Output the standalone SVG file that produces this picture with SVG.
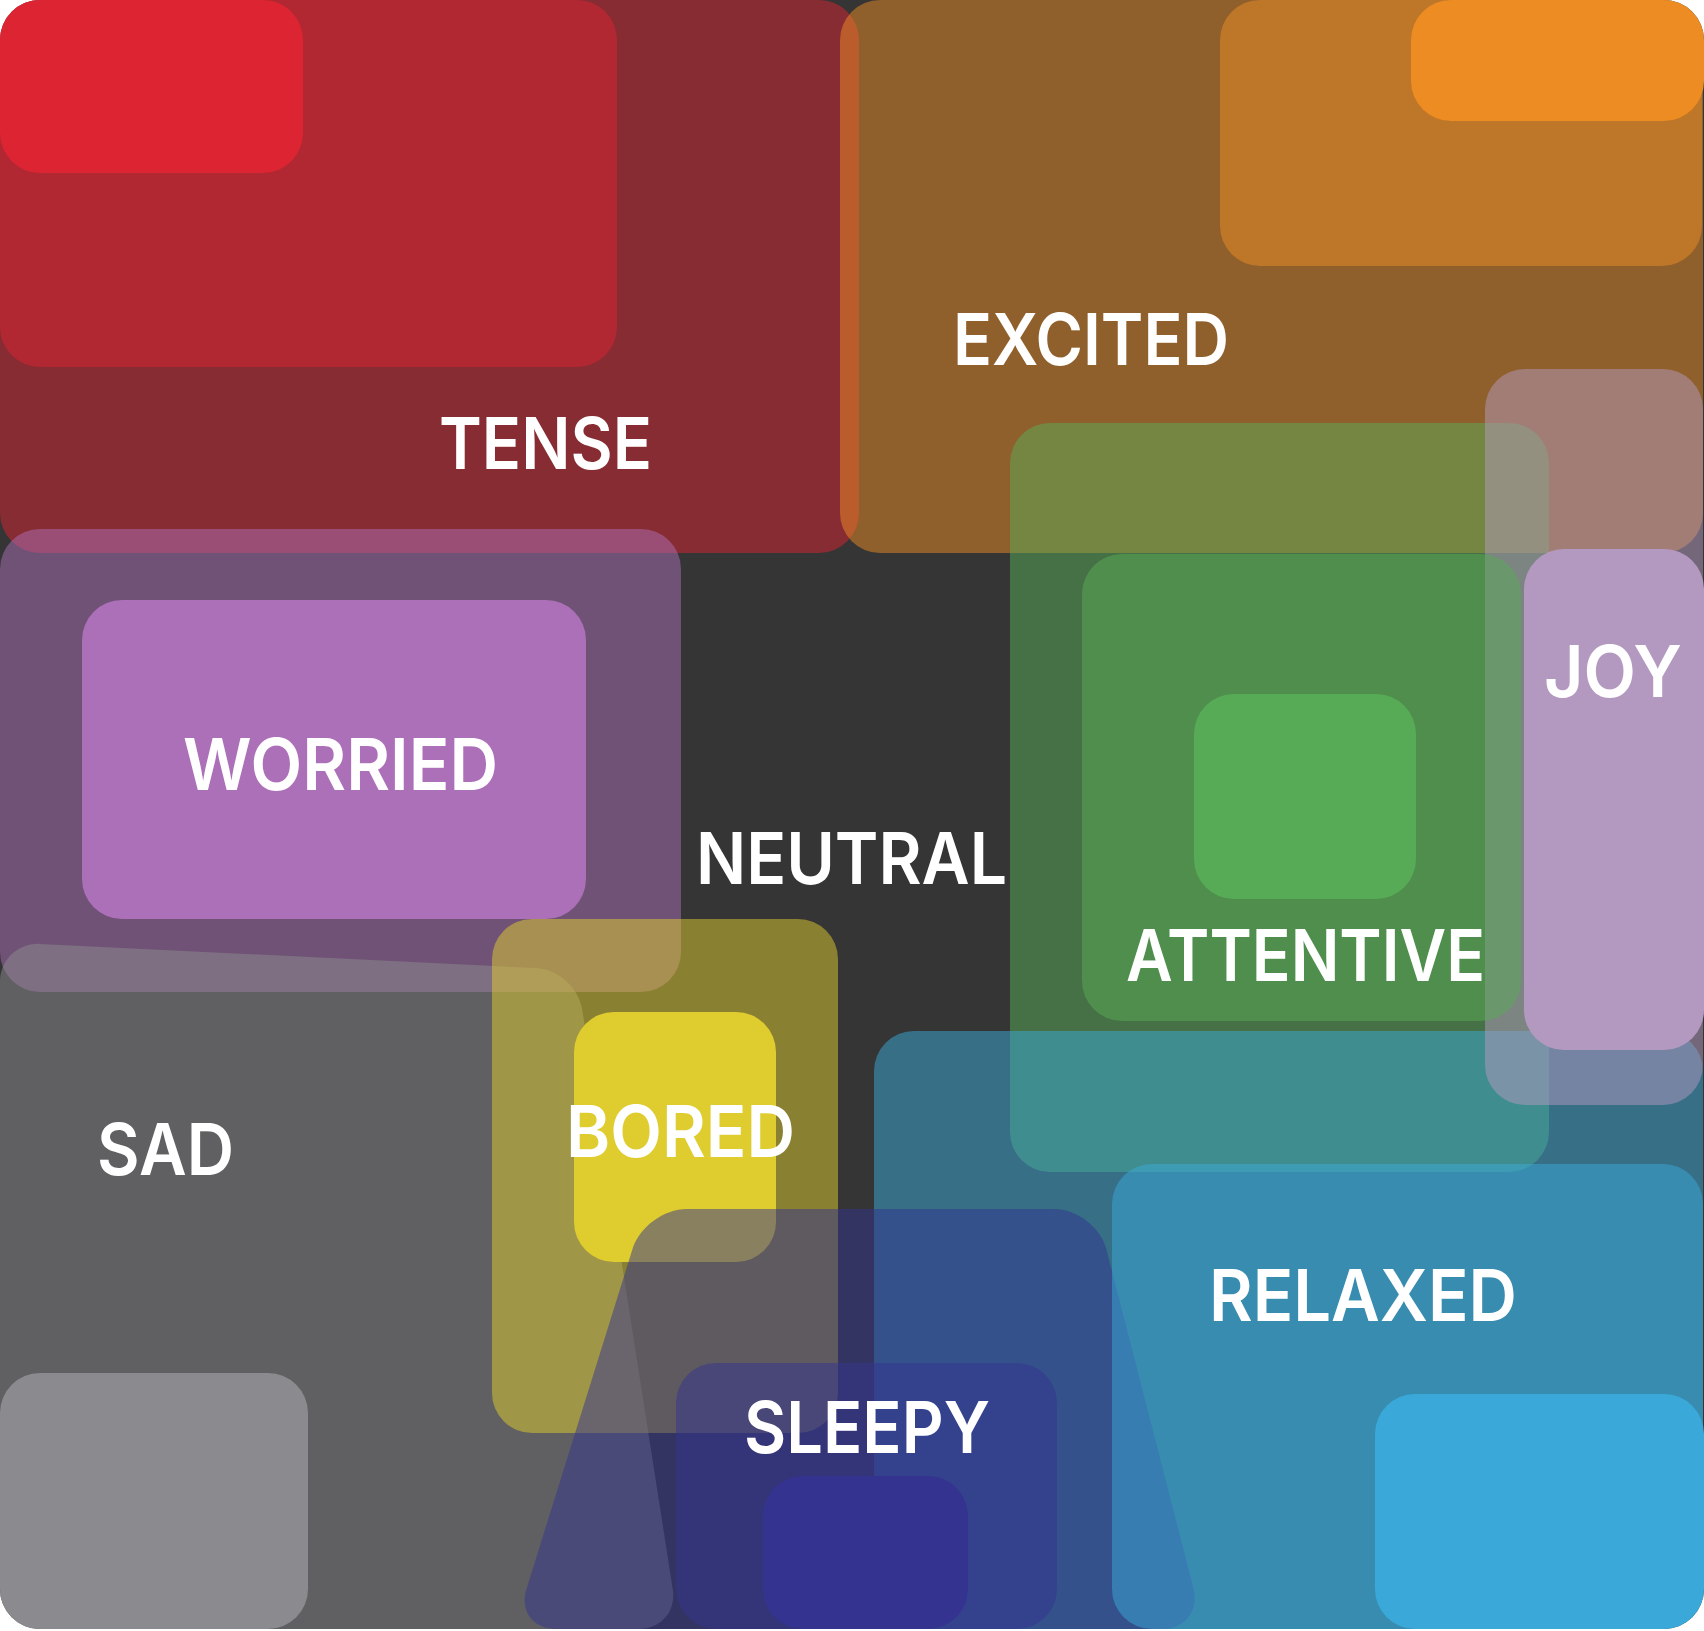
<svg xmlns="http://www.w3.org/2000/svg" width="1704" height="1631" viewBox="0 0 1704 1631">
<style>
.tense{fill:#DC2432}.excited{fill:#EC8C23}.worried{fill:#AC70B8}.sad{fill:#8B8B8F}.bored{fill:#DFCC2E}
.attentive{fill:#58AB56}.joy{fill:#B399C0}.relaxed{fill:#3AA9D9}.sleepy{fill:#343490}
.half{fill-opacity:0.5}
.lbl{font-family:Inter,"Liberation Sans",sans-serif;font-weight:600;font-size:72px;fill:#FFFFFF}
</style>
<rect x="0" y="0" width="1704" height="1631" fill="#FFFFFF"/>
<rect id="background" x="0" y="0" width="1704" height="1629" rx="40" fill="#353535"/>

<g id="tense">
<rect class="tense half" x="0" y="0" width="859" height="553" rx="40"/>
<rect class="tense half" x="0" y="0" width="617" height="367" rx="40"/>
<rect class="tense" x="0" y="0" width="303" height="173" rx="40"/>
<text class="lbl" x="439" y="469" textLength="213" lengthAdjust="spacingAndGlyphs">TENSE</text>
</g>

<g id="excited">
<rect class="excited half" x="840" y="0" width="863" height="553" rx="40"/>
<rect class="excited half" x="1220" y="0" width="482" height="266" rx="40"/>
<rect class="excited" x="1411" y="0" width="293" height="121" rx="40"/>
<text class="lbl" x="953" y="365" textLength="276" lengthAdjust="spacingAndGlyphs">EXCITED</text>
</g>

<g id="worried">
<rect class="worried half" x="0" y="529" width="681" height="463" rx="40"/>
<rect class="worried" x="82" y="600" width="504" height="319" rx="40"/>
<text class="lbl" x="183" y="790" textLength="315" lengthAdjust="spacingAndGlyphs">WORRIED</text>
</g>

<g id="sad">
<path class="sad half" d="M0,982 C0,959.9 17.9,942.9 40,943.9 L536,968.1 C558.1,969.1 578.8,987.7 582.2,1009.5 L672.8,1589.5 C676.2,1611.3 661.1,1629 639,1629 L40,1629 C17.9,1629 0,1611.1 0,1589 Z"/>
<rect class="sad" x="0" y="1373" width="308" height="256" rx="40"/>
<text class="lbl" x="97" y="1175" textLength="137" lengthAdjust="spacingAndGlyphs">SAD</text>
</g>

<g id="bored">
<rect class="bored half" x="492" y="919" width="346" height="514" rx="40"/>
<rect class="bored" x="574" y="1012" width="202" height="250" rx="40"/>
<text class="lbl" x="566" y="1157" textLength="229" lengthAdjust="spacingAndGlyphs">BORED</text>
</g>

<g id="attentive-zone">
<rect class="attentive half" x="1010" y="423" width="539" height="749" rx="40"/>
</g>

<g id="relaxed-zone">
<rect class="relaxed half" x="874" y="1031" width="829" height="598" rx="40"/>
</g>

<g id="sleepy">
<path class="sleepy half" d="M632.5,1249.1 C639.4,1226.9 663.8,1209 687,1209 L1054,1209 C1077.2,1209 1100.7,1227.2 1106.5,1249.7 L1193.5,1588.3 C1199.3,1610.8 1185.2,1629 1162,1629 L556,1629 C532.8,1629 519.6,1611 526.5,1588.9 Z"/>
<rect class="sleepy half" x="676" y="1363" width="381" height="266" rx="40"/>
<rect class="sleepy" x="763" y="1476" width="205" height="153" rx="40"/>
<text class="lbl" x="744" y="1453" textLength="246" lengthAdjust="spacingAndGlyphs">SLEEPY</text>
</g>

<g id="relaxed">
<rect class="relaxed half" x="1112" y="1164" width="591" height="465" rx="40"/>
<rect class="relaxed" x="1375" y="1394" width="329" height="235" rx="40"/>
<text class="lbl" x="1209" y="1321" textLength="308" lengthAdjust="spacingAndGlyphs">RELAXED</text>
</g>

<g id="joy">
<rect class="joy half" x="1485" y="369" width="218" height="736" rx="40"/>
<rect class="joy" x="1524" y="549" width="180" height="501" rx="40"/>
<text class="lbl" x="1544" y="697" textLength="138" lengthAdjust="spacingAndGlyphs">JOY</text>
</g>

<g id="attentive">
<rect class="attentive half" x="1082" y="554" width="439" height="467" rx="40"/>
<rect class="attentive" x="1194" y="694" width="222" height="205" rx="40"/>
<text class="lbl" x="1126" y="981" textLength="359" lengthAdjust="spacingAndGlyphs">ATTENTIVE</text>
</g>

<g id="neutral">
<text class="lbl" x="696" y="884" textLength="311" lengthAdjust="spacingAndGlyphs">NEUTRAL</text>
</g>
</svg>
